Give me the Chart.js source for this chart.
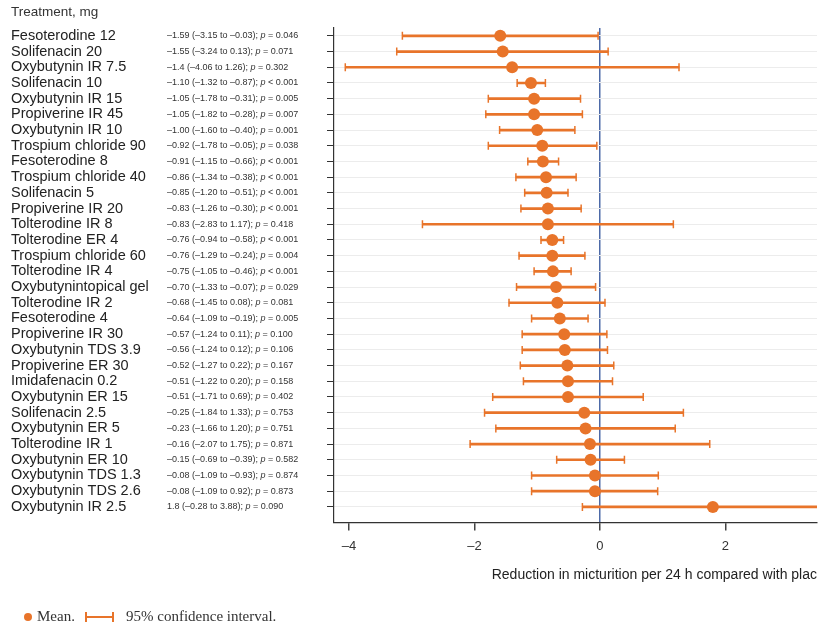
<!DOCTYPE html>
<html>
<head>
<meta charset="utf-8">
<script src="https://cdn.jsdelivr.net/npm/chart.js@4.4.1/dist/chart.umd.min.js"></script>
<style>
  html, body { margin: 0; padding: 0; background: #fff; }
  #wrap { width: 824px; height: 629px; position: relative; }
</style>
</head>
<body>
<div id="wrap"><canvas id="forestChart"></canvas></div>
<script>
// treatments, top to bottom
const drugs = [
    'Fesoterodine 12', 'Solifenacin 20', 'Oxybutynin IR 7.5', 'Solifenacin 10',
    'Oxybutynin IR 15', 'Propiverine IR 45', 'Oxybutynin IR 10', 'Trospium chloride 90',
    'Fesoterodine 8', 'Trospium chloride 40', 'Solifenacin 5', 'Propiverine IR 20',
    'Tolterodine IR 8', 'Tolterodine ER 4', 'Trospium chloride 60', 'Tolterodine IR 4',
    'Oxybutynintopical gel', 'Tolterodine IR 2', 'Fesoterodine 4', 'Propiverine IR 30',
    'Oxybutynin TDS 3.9', 'Propiverine ER 30', 'Imidafenacin 0.2', 'Oxybutynin ER 15',
    'Solifenacin 2.5', 'Oxybutynin ER 5', 'Tolterodine IR 1', 'Oxybutynin ER 10',
    'Oxybutynin TDS 1.3', 'Oxybutynin TDS 2.6', 'Oxybutynin IR 2.5'
];

// mean difference vs placebo
const means = [
    -1.59, -1.55, -1.40, -1.10, -1.05, -1.05, -1.00, -0.92,
    -0.91, -0.86, -0.85, -0.83, -0.83, -0.76, -0.76, -0.75,
    -0.70, -0.68, -0.64, -0.57, -0.56, -0.52, -0.51, -0.51,
    -0.25, -0.23, -0.16, -0.15, -0.08, -0.08, 1.80
];

// 95% CI
const lower = [
    -3.15, -3.24, -4.06, -1.32, -1.78, -1.82, -1.60, -1.78,
    -1.15, -1.34, -1.20, -1.26, -2.83, -0.94, -1.29, -1.05,
    -1.33, -1.45, -1.09, -1.24, -1.24, -1.27, -1.22, -1.71,
    -1.84, -1.66, -2.07, -0.69, -1.09, -1.09, -0.28
];
const upper = [
    -0.03, 0.13, 1.26, -0.87, -0.31, -0.28, -0.40, -0.05,
    -0.66, -0.38, -0.51, -0.30, 1.17, -0.58, -0.24, -0.46,
    -0.07, 0.08, -0.19, 0.11, 0.12, 0.22, 0.20, 0.69,
    1.33, 1.20, 1.75, 0.39, 0.93, 0.92, 3.88
];

// text column as printed
const notes = [
    '–1.59 (–3.15 to –0.03); p = 0.046', '–1.55 (–3.24 to 0.13); p = 0.071',
    '–1.4 (–4.06 to 1.26); p = 0.302', '–1.10 (–1.32 to –0.87); p < 0.001',
    '–1.05 (–1.78 to –0.31); p = 0.005', '–1.05 (–1.82 to –0.28); p = 0.007',
    '–1.00 (–1.60 to –0.40); p = 0.001', '–0.92 (–1.78 to –0.05); p = 0.038',
    '–0.91 (–1.15 to –0.66); p < 0.001', '–0.86 (–1.34 to –0.38); p < 0.001',
    '–0.85 (–1.20 to –0.51); p < 0.001', '–0.83 (–1.26 to –0.30); p < 0.001',
    '–0.83 (–2.83 to 1.17); p = 0.418', '–0.76 (–0.94 to –0.58); p < 0.001',
    '–0.76 (–1.29 to –0.24); p = 0.004', '–0.75 (–1.05 to –0.46); p < 0.001',
    '–0.70 (–1.33 to –0.07); p = 0.029', '–0.68 (–1.45 to 0.08); p = 0.081',
    '–0.64 (–1.09 to –0.19); p = 0.005', '–0.57 (–1.24 to 0.11); p = 0.100',
    '–0.56 (–1.24 to 0.12); p = 0.106', '–0.52 (–1.27 to 0.22); p = 0.167',
    '–0.51 (–1.22 to 0.20); p = 0.158', '–0.51 (–1.71 to 0.69); p = 0.402',
    '–0.25 (–1.84 to 1.33); p = 0.753', '–0.23 (–1.66 to 1.20); p = 0.751',
    '–0.16 (–2.07 to 1.75); p = 0.871', '–0.15 (–0.69 to –0.39); p = 0.582',
    '–0.08 (–1.09 to –0.93); p = 0.874', '–0.08 (–1.09 to 0.92); p = 0.873',
    '1.8 (–0.28 to 3.88); p = 0.090'
];

const xTicks = [-4, -2, 0, 2];

const ORANGE = '#e8742a';
const rows = drugs.map((d, i) => i);

// labels, notes, header and the little legend at the bottom
const textPlugin = {
    id: 'forestText',
    afterDraw(chart) {
        const ctx = chart.ctx;
        const y = chart.scales.y;
        ctx.save();
        ctx.textBaseline = 'middle';
        ctx.textAlign = 'left';

        ctx.fillStyle = '#333';
        ctx.font = '13.5px "Liberation Sans", Arial, sans-serif';
        ctx.fillText('Treatment, mg', 11, 12);

        rows.forEach(i => {
            const py = y.getPixelForValue(i);
            ctx.fillStyle = '#222';
            ctx.font = '14.5px "Liberation Sans", Arial, sans-serif';
            ctx.fillText(drugs[i], 11, py);

            // notes, p in italics
            ctx.fillStyle = '#333';
            const parts = notes[i].split('p ');
            let x = 167;
            ctx.font = '9px "Liberation Sans", Arial, sans-serif';
            ctx.fillText(parts[0], x, py);
            x += ctx.measureText(parts[0]).width;
            ctx.font = 'italic 9px "Liberation Sans", Arial, sans-serif';
            ctx.fillText('p', x, py);
            x += ctx.measureText('p ').width;
            ctx.font = '9px "Liberation Sans", Arial, sans-serif';
            ctx.fillText(parts[1], x, py);
        });

        // legend
        const ly = 617;
        ctx.fillStyle = ORANGE;
        ctx.beginPath();
        ctx.arc(28, ly, 4, 0, Math.PI * 2);
        ctx.fill();
        ctx.fillStyle = '#333';
        ctx.font = '15px "Liberation Serif", "Times New Roman", serif';
        ctx.fillText('Mean.', 37, ly);
        ctx.strokeStyle = ORANGE;
        ctx.lineWidth = 2;
        ctx.beginPath();
        ctx.moveTo(86, ly); ctx.lineTo(113, ly);
        ctx.moveTo(86, ly - 5); ctx.lineTo(86, ly + 5);
        ctx.moveTo(113, ly - 5); ctx.lineTo(113, ly + 5);
        ctx.stroke();
        ctx.fillText('95% confidence interval.', 126, ly);
        ctx.restore();
    }
};

const ctx = document.getElementById('forestChart').getContext('2d');
const forestChart = new Chart(ctx, {
    type: 'bar',
    data: {
        datasets: [{
            // CI line
            type: 'bar',
            data: rows.map(i => ({ y: i, x: [lower[i], upper[i]] })),
            backgroundColor: ORANGE,
            borderWidth: 0,
            barThickness: 2,
            order: 3
        }, {
            // CI caps
            type: 'scatter',
            data: rows.map(i => ({ x: lower[i], y: i })).concat(rows.map(i => ({ x: upper[i], y: i }))),
            pointStyle: 'line',
            rotation: 90,
            pointRadius: 4,
            pointHoverRadius: 4,
            borderColor: ORANGE,
            borderWidth: 1.5,
            order: 2
        }, {
            // means
            type: 'scatter',
            data: rows.map(i => ({ x: means[i], y: i })),
            pointRadius: 6,
            pointHoverRadius: 6,
            backgroundColor: ORANGE,
            borderColor: ORANGE,
            borderWidth: 0,
            order: 1
        }]
    },
    options: {
        indexAxis: 'y',
        responsive: true,
        maintainAspectRatio: false,
        animation: false,
        layout: {
            padding: { left: 327, top: 28, right: 7, bottom: 45 }
        },
        plugins: {
            legend: { display: false },
            tooltip: { enabled: false }
        },
        scales: {
            x: {
                type: 'linear',
                min: -4.24,
                max: 3.46,
                afterBuildTicks: (axis) => { axis.ticks = xTicks.map(v => ({ value: v })); },
                grid: {
                    drawOnChartArea: true,
                    color: (c) => (c.tick && c.tick.value === 0) ? '#4d6aa8' : 'rgba(0,0,0,0)',
                    lineWidth: 1.5,
                    tickColor: '#444',
                    tickLength: 8
                },
                border: { color: '#333', width: 1.2 },
                ticks: {
                    color: '#333',
                    font: { size: 13, family: '"Liberation Sans", Arial, sans-serif' },
                    padding: 8,
                    callback: (v) => String(v).replace('-', '–')
                },
                title: {
                    display: true,
                    text: 'Reduction in micturition per 24 h compared with plac',
                    align: 'end',
                    color: '#222',
                    font: { size: 14, family: '"Liberation Sans", Arial, sans-serif' },
                    padding: { top: 5, bottom: 0 }
                }
            },
            y: {
                type: 'linear',
                reverse: true,
                offset: false,
                min: -0.5,
                max: 31,
                afterBuildTicks: (axis) => { axis.ticks = rows.map(v => ({ value: v })); },
                grid: {
                    offset: false,
                    color: '#ececec',
                    lineWidth: 1,
                    tickColor: '#333',
                    tickLength: 7,
                    z: -1
                },
                border: { color: '#333', width: 1.2, z: -1 },
                ticks: { display: false }
            }
        }
    },
    plugins: [textPlugin]
});
</script>
</body>
</html>
